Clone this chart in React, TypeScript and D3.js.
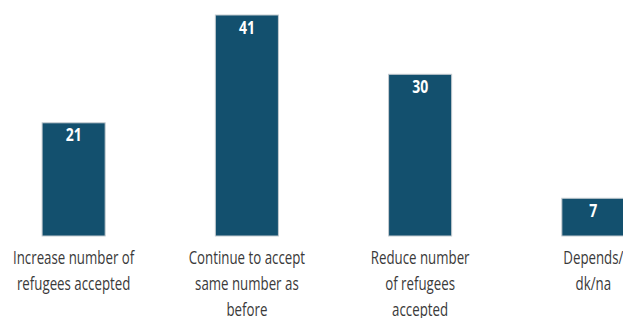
import React from "react";
import { scaleBand, scaleLinear } from "d3";

// categories (line-broken as in the source) and their values
const categories = [
  ["Increase number of", "refugees accepted"],
  ["Continue to accept", "same number as", "before"],
  ["Reduce number", "of refugees", "accepted"],
  ["Depends/", "dk/na"],
];
const values = [21, 41, 30, 7];

const width = 623;
const height = 318;
const baseline = 236;
const font = "'Open Sans', sans-serif";
const squeeze = 0.7; // condensed look

export default function App() {
  const keys = categories.map((_, i) => String(i));

  const xScale = scaleBand()
    .domain(keys)
    .range([-13, 680])
    .paddingInner(0.636)
    .paddingOuter(0.318);

  const yScale = scaleLinear().domain([0, 41]).range([baseline, 15]);

  return (
    <svg
      width={width}
      height={height}
      style={{ position: "absolute", left: 0, top: 0, background: "#fff" }}
    >
      {values.map((v, i) => {
        const x = xScale(keys[i]);
        const cx = x + xScale.bandwidth() / 2;
        return (
          <g key={i}>
            <rect
              x={x}
              y={yScale(v)}
              width={xScale.bandwidth()}
              height={yScale(0) - yScale(v)}
              fill="#13506e"
              stroke="#c4cbd0"
              strokeWidth={1}
            />
            <text
              transform={`translate(${cx},${yScale(v) + 18.5}) scale(0.8,1)`}
              textAnchor="middle"
              fill="#fff"
              fontFamily={font}
              fontWeight="bold"
              fontSize={17.5}
            >
              {v}
            </text>
            {categories[i].map((line, j) => (
              <text
                key={j}
                transform={`translate(${cx},${baseline + 28 + j * 26}) scale(${squeeze},1)`}
                textAnchor="middle"
                fill="#3a3a3a"
                fontFamily={font}
                fontSize={19}
              >
                {line}
              </text>
            ))}
          </g>
        );
      })}
    </svg>
  );
}
